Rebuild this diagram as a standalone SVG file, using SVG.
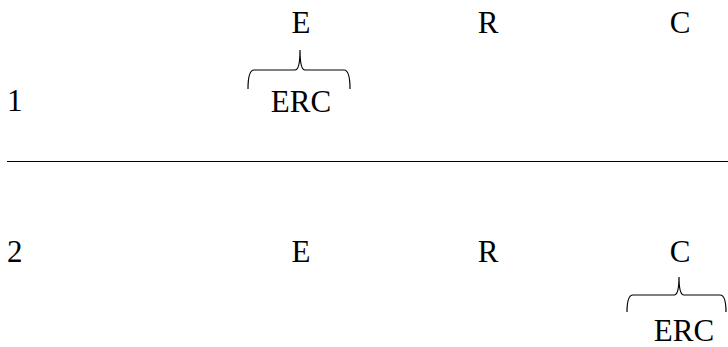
<svg xmlns="http://www.w3.org/2000/svg" width="728" height="347" viewBox="0 0 728 347">
<style>
text{font-family:"Liberation Serif","Times New Roman",serif;font-size:31px;fill:#000}
.m{text-anchor:middle}
.br{fill:none;stroke:#000;stroke-width:1.2}
</style>
<rect width="728" height="347" fill="#fff"/>
<g id="row1">
<text x="7" y="111">1</text>
<text class="m" x="301" y="33">E</text>
<text class="m" x="488" y="33">R</text>
<text class="m" x="680" y="33">C</text>
</g>
<g id="brace1">
<path class="br" d="M248,89 Q248,70 254,70 L295,70 Q300,70 300,50 Q300,70 305,70 L344,70 Q350,70 350,89"/>
<text class="m" x="301" y="112">ERC</text>
</g>
<g id="row2">
<text x="7" y="262">2</text>
<text class="m" x="301" y="262">E</text>
<text class="m" x="488" y="262">R</text>
<text class="m" x="680" y="262">C</text>
</g>
<g id="brace2">
<path class="br" d="M627,312 Q627,295 633,295 L674,295 Q679,295 679,277 Q679,295 684,295 L720,295 Q726,295 726,312"/>
<text class="m" x="684" y="341">ERC</text>
</g>
<g id="connectors">
<line x1="7" y1="161.5" x2="728" y2="161.5" stroke="#000" stroke-width="1"/>
</g>
</svg>
